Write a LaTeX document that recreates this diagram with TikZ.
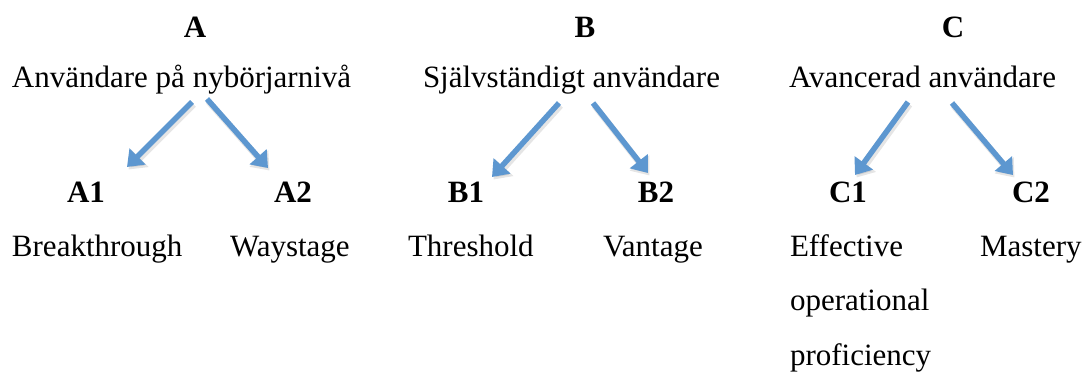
\documentclass[tikz,border=0pt]{standalone}
\usepackage{fontspec}
\setmainfont{Liberation Serif}
\usetikzlibrary{arrows.meta}
\definecolor{arrowblue}{RGB}{93,151,208}
\tikzset{
  txt/.style={inner sep=0pt, outer sep=0pt, anchor=base west, font=\fontsize{31}{37}\selectfont},
  head/.style={inner sep=0pt, outer sep=0pt, anchor=base, font=\fontsize{31}{37}\selectfont\bfseries},
  conn/.style={draw=arrowblue, line width=5.5pt, -{Triangle[length=15pt,width=22pt]}},
  connshadow/.style={draw=black, opacity=0.1, line width=6.5pt, -{Triangle[length=16pt,width=24pt]}, transform canvas={shift={(1.5pt,-2.5pt)}}}
}
\begin{document}
\begin{tikzpicture}[x=1pt,y=-1pt]
\useasboundingbox (0,0) rectangle (1085,374);
% headings
\node[head] (A) at (195,38) {A};
\node[head] (B) at (585,38) {B};
\node[head] (C) at (953,38) {C};
\node[txt] (An) at (12,88) {Användare på nybörjarnivå};
\node[txt] (Bn) at (423,88) {Självständigt användare};
\node[txt] (Cn) at (789,88) {Avancerad användare};
% sub levels
\node[head] (A1) at (86,203) {A1};
\node[head] (A2) at (293,203) {A2};
\node[head] (B1) at (466,203) {B1};
\node[head] (B2) at (656,203) {B2};
\node[head] (C1) at (848,203) {C1};
\node[head] (C2) at (1031,203) {C2};
\node[txt] (A1n) at (12,257) {Breakthrough};
\node[txt] (A2n) at (230,257) {Waystage};
\node[txt] (B1n) at (408,257) {Threshold};
\node[txt] (B2n) at (603,257) {Vantage};
\node[txt] (C1n) at (790,257) {Effective};
\node[txt] (C1m) at (790,311) {operational};
\node[txt] (C1o) at (790,365) {proficiency};
\node[txt] (C2n) at (980,257) {Mastery};
% connector end points
\coordinate (aS1) at (192,102); \coordinate (aE1) at (127,167);
\coordinate (aS2) at (207,99);  \coordinate (aE2) at (268,168);
\coordinate (bS1) at (559,103); \coordinate (bE1) at (492,177);
\coordinate (bS2) at (593,103); \coordinate (bE2) at (648,173);
\coordinate (cS1) at (908,102); \coordinate (cE1) at (855,175);
\coordinate (cS2) at (952,103); \coordinate (cE2) at (1013,175);
% shadows
\foreach \s/\e in {aS1/aE1,aS2/aE2,bS1/bE1,bS2/bE2,cS1/cE1,cS2/cE2}
  \draw[connshadow] (\s) -- (\e);
% arrows
\foreach \s/\e in {aS1/aE1,aS2/aE2,bS1/bE1,bS2/bE2,cS1/cE1,cS2/cE2}
  \draw[conn] (\s) -- (\e);
\end{tikzpicture}
\end{document}
